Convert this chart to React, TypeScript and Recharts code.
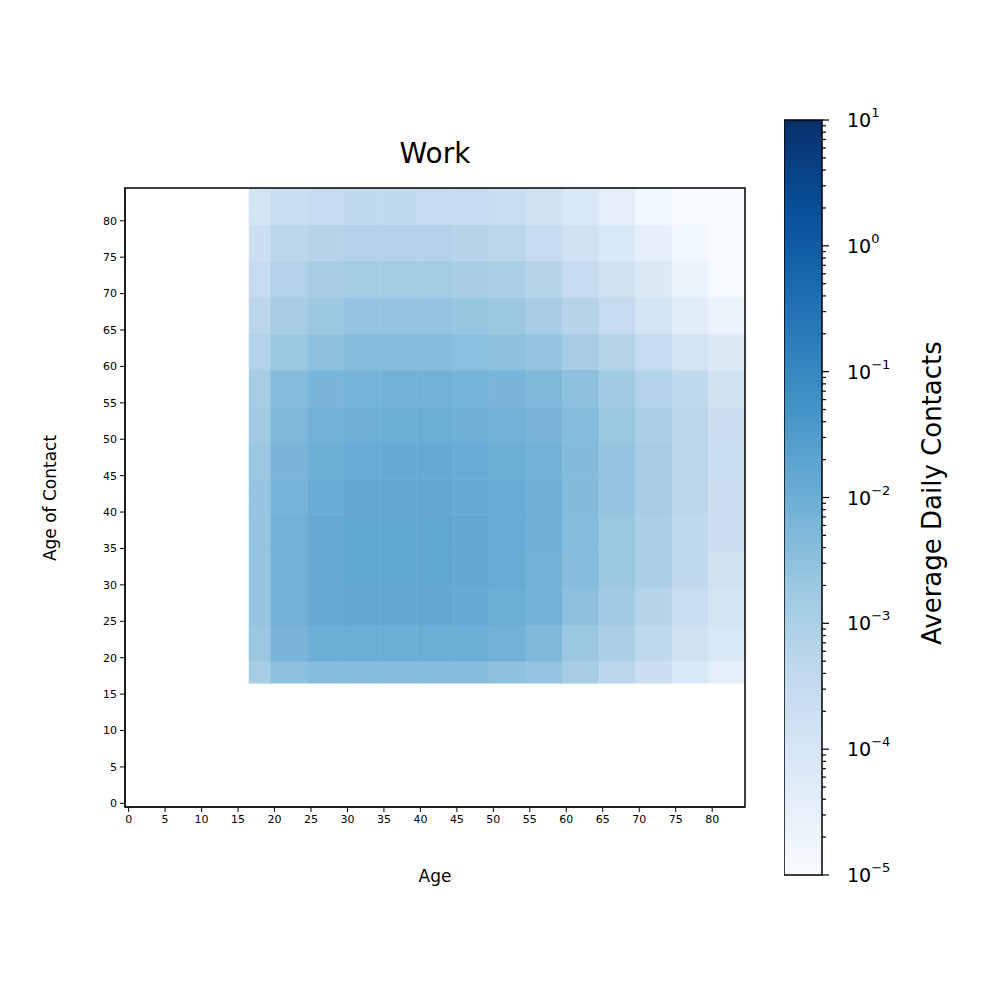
import React from "react";
import { ComposedChart, XAxis, YAxis, ReferenceArea, Scatter } from "recharts";

// age bins (edges) for both axes
const binStarts = [17, 20, 25, 30, 35, 40, 45, 50, 55, 60, 65, 70, 75, 80];
const binEnds = [19, 24, 29, 34, 39, 44, 49, 54, 59, 64, 69, 74, 79, 84];
const ageTicks = [0, 5, 10, 15, 20, 25, 30, 35, 40, 45, 50, 55, 60, 65, 70, 75, 80];

// log10(average daily contacts); rows = age of contact bins (bottom -> top), cols = age bins
const logContacts: number[][] = [
  [-2.9, -2.5, -2.4, -2.4, -2.4, -2.4, -2.4, -2.5, -2.6, -2.9, -3.3, -3.7, -4.1, -4.4],
  [-2.7, -2.2, -2.0, -2.0, -2.0, -2.0, -2.0, -2.1, -2.3, -2.7, -3.0, -3.4, -3.8, -4.1],
  [-2.6, -2.1, -1.9, -1.85, -1.85, -1.85, -1.9, -2.0, -2.1, -2.5, -2.8, -3.2, -3.6, -3.9],
  [-2.6, -2.1, -1.9, -1.8, -1.8, -1.8, -1.85, -1.95, -2.1, -2.4, -2.7, -3.0, -3.4, -3.8],
  [-2.6, -2.1, -1.9, -1.8, -1.8, -1.8, -1.85, -1.95, -2.05, -2.4, -2.7, -3.0, -3.4, -3.7],
  [-2.6, -2.15, -1.95, -1.85, -1.85, -1.85, -1.9, -1.95, -2.05, -2.35, -2.6, -2.9, -3.3, -3.7],
  [-2.7, -2.2, -2.0, -1.95, -1.9, -1.9, -1.95, -2.0, -2.1, -2.35, -2.6, -2.9, -3.3, -3.6],
  [-2.8, -2.3, -2.1, -2.05, -2.0, -2.0, -2.05, -2.1, -2.2, -2.4, -2.7, -3.0, -3.3, -3.7],
  [-2.9, -2.4, -2.2, -2.15, -2.1, -2.1, -2.15, -2.2, -2.3, -2.5, -2.8, -3.1, -3.4, -3.8],
  [-3.1, -2.7, -2.5, -2.4, -2.4, -2.4, -2.45, -2.5, -2.6, -2.9, -3.2, -3.5, -3.9, -4.2],
  [-3.3, -2.9, -2.7, -2.6, -2.6, -2.6, -2.65, -2.7, -2.9, -3.2, -3.5, -3.9, -4.3, -4.6],
  [-3.5, -3.1, -2.9, -2.85, -2.85, -2.85, -2.9, -3.0, -3.2, -3.5, -3.8, -4.2, -4.6, -4.9],
  [-3.7, -3.3, -3.2, -3.1, -3.1, -3.1, -3.2, -3.3, -3.5, -3.8, -4.1, -4.5, -4.8, -5.0],
  [-3.9, -3.6, -3.5, -3.4, -3.4, -3.5, -3.5, -3.6, -3.8, -4.1, -4.4, -4.8, -5.0, -5.0],
];

const BLUES = ["#f7fbff", "#deebf7", "#c6dbef", "#9ecae1", "#6baed6", "#4292c6", "#2171b5", "#08519c", "#08306b"];
const FONT = "'DejaVu Sans', sans-serif";

function hex(c: string) {
  return [1, 3, 5].map((i) => parseInt(c.slice(i, i + 2), 16));
}
function blues(t: number) {
  t = Math.max(0, Math.min(1, t));
  const p = t * (BLUES.length - 1);
  const i = Math.min(BLUES.length - 2, Math.floor(p));
  const f = p - i;
  const a = hex(BLUES[i]);
  const b = hex(BLUES[i + 1]);
  return `rgb(${a.map((v, k) => Math.round(v + (b[k] - v) * f)).join(",")})`;
}
const colorOf = (lg: number) => blues((lg + 5) / 6);

const cbTicks: number[] = [];
for (let e = -5; e <= 1; e++) {
  cbTicks.push(Math.pow(10, e));
  if (e < 1) for (let k = 2; k <= 9; k++) cbTicks.push(k * Math.pow(10, e));
}

const CbTick = (props: any) => {
  const { x, y, payload } = props;
  const v = payload.value;
  const e = Math.round(Math.log10(v));
  const major = Math.abs(v / Math.pow(10, e) - 1) < 1e-6;
  return (
    <g>
      <line x1={x} x2={x + (major ? 7 : 4)} y1={y} y2={y} stroke="#000" strokeWidth={1.2} />
      {major && (
        <text x={x + 25} y={y + 7} fontSize={19} fontFamily={FONT} fill="#000">
          10
          <tspan dy={-10} fontSize={13}>{e < 0 ? `\u2212${-e}` : `${e}`}</tspan>
        </text>
      )}
    </g>
  );
};

const dummy = [{ x: -10, y: -10 }];

export default function App() {
  const cells: React.ReactNode[] = [];
  logContacts.forEach((row, r) =>
    row.forEach((lg, c) =>
      cells.push(
        <ReferenceArea
          key={`${r}-${c}`}
          x1={binStarts[c] - 0.5}
          x2={binEnds[c] + 0.5}
          y1={binStarts[r] - 0.5}
          y2={binEnds[r] + 0.5}
          fill={colorOf(lg)}
          fillOpacity={1}
          stroke={colorOf(lg)}
          strokeWidth={0.5}
          ifOverflow="hidden"
        />
      )
    )
  );
  return (
    <div style={{ position: "absolute", left: 0, top: 0, width: 1000, height: 1000, background: "#fff", fontFamily: FONT }}>
      <div style={{ position: "absolute", left: 0, top: 0 }}>
        <ComposedChart width={1000} height={1000} margin={{ top: 188, left: 85, right: 255, bottom: 153 }}>
          <XAxis
            type="number"
            dataKey="x"
            domain={[-0.5, 84.5]}
            ticks={ageTicks}
            allowDataOverflow
            height={40}
            stroke="#000"
            tick={{ fill: "#000", fontSize: 11, fontFamily: FONT }}
            tickSize={5}
            tickMargin={3}
          />
          <YAxis
            type="number"
            dataKey="y"
            domain={[-0.5, 84.5]}
            ticks={ageTicks}
            allowDataOverflow
            width={40}
            stroke="#000"
            tick={{ fill: "#000", fontSize: 11, fontFamily: FONT }}
            tickSize={5}
            tickMargin={3}
          />
          {cells}
          <Scatter data={dummy} fill="none" isAnimationActive={false} />
          <ReferenceArea x1={-0.5} x2={84.5} y1={-0.5} y2={84.5} fill="none" stroke="#000" strokeWidth={1.5} />
        </ComposedChart>
      </div>
      <div style={{ position: "absolute", left: 784, top: 95 }}>
        <ComposedChart width={160} height={805} margin={{ top: 25, left: 0, right: 0, bottom: 25 }}>
          <defs>
            <linearGradient id="cb" x1="0" y1="1" x2="0" y2="0">
              {BLUES.map((c, i) => (
                <stop key={i} offset={i / (BLUES.length - 1)} stopColor={c} />
              ))}
            </linearGradient>
          </defs>
          <XAxis type="number" dataKey="x" domain={[0, 1]} allowDataOverflow hide />
          <YAxis
            type="number"
            dataKey="y"
            scale="log"
            orientation="right"
            domain={[1e-5, 10]}
            ticks={cbTicks}
            interval={0}
            allowDataOverflow
            width={122}
            axisLine={false}
            tickLine={false}
            tickSize={0}
            tickMargin={0}
            tick={<CbTick />}
          />
          <Scatter data={[{ x: 0.5, y: 1 }]} fill="none" isAnimationActive={false} />
          <ReferenceArea x1={0} x2={1} y1={1e-5} y2={10} fill="url(#cb)" fillOpacity={1} stroke="#000" strokeWidth={1.5} />
        </ComposedChart>
      </div>
      <div style={{ position: "absolute", left: 335, width: 200, top: 137, textAlign: "center", fontSize: 28 }}>Work</div>
      <div style={{ position: "absolute", left: 335, width: 200, top: 866, textAlign: "center", fontSize: 17 }}>Age</div>
      <div
        style={{ position: "absolute", left: -50, top: 488, width: 200, textAlign: "center", fontSize: 17, transform: "rotate(-90deg)", whiteSpace: "nowrap" }}
      >
        Age of Contact
      </div>
      <div
        style={{ position: "absolute", left: 782, top: 480, width: 300, textAlign: "center", fontSize: 26, transform: "rotate(-90deg)", whiteSpace: "nowrap" }}
      >
        Average Daily Contacts
      </div>
    </div>
  );
}
